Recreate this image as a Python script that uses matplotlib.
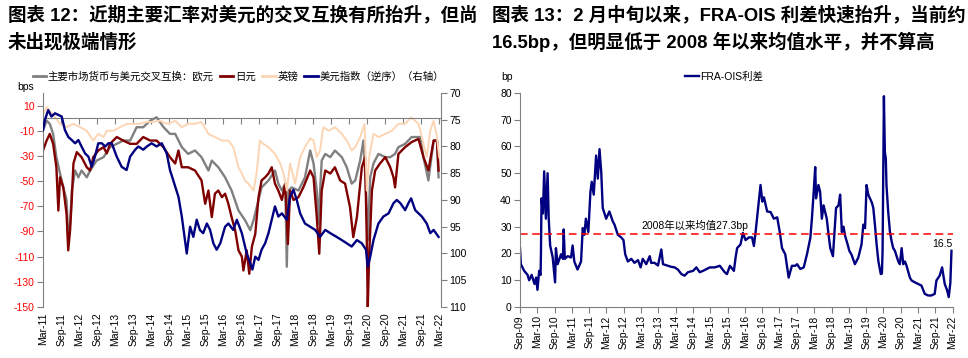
import pandas as pd
import matplotlib
matplotlib.use("Agg")
import matplotlib.pyplot as plt
import matplotlib.dates as mdates
from matplotlib.lines import Line2D

plt.rcParams['font.family'] = ['Liberation Sans', 'Noto Sans CJK SC']
plt.rcParams['axes.unicode_minus'] = False

# ---- left chart: cross-currency basis (bps) and dollar index ----
eur_dates = ['2011-03-01', '2011-04-07', '2011-05-09', '2011-06-12', '2011-07-15', '2011-08-21',
             '2011-09-23', '2011-10-26', '2011-11-12', '2011-12-01', '2011-12-18', '2012-01-21',
             '2012-02-23', '2012-03-26', '2012-05-18', '2012-06-21', '2012-08-26', '2012-11-04',
             '2013-01-09', '2013-03-18', '2013-05-23', '2013-08-01', '2013-10-06', '2013-12-12',
             '2014-02-20', '2014-04-26', '2014-07-04', '2014-09-09', '2014-11-01', '2015-01-07',
             '2015-03-12', '2015-05-21', '2015-07-26', '2015-10-04', '2015-11-07', '2016-01-12',
             '2016-03-21', '2016-05-26', '2016-08-04', '2016-10-09', '2016-12-01', '2017-01-04',
             '2017-02-23', '2017-03-26', '2017-06-04', '2017-08-09', '2017-09-12', '2017-10-18',
             '2017-11-21', '2017-12-07', '2017-12-23', '2018-01-26', '2018-04-04', '2018-06-09',
             '2018-08-01', '2018-09-04', '2018-10-07', '2018-10-23', '2018-11-26', '2019-01-01',
             '2019-02-21', '2019-04-09', '2019-06-18', '2019-08-07', '2019-09-26', '2019-11-01',
             '2019-12-21', '2020-01-23', '2020-02-18', '2020-03-07', '2020-04-01', '2020-05-04',
             '2020-06-23', '2020-09-01', '2020-10-21', '2020-12-09', '2021-01-12', '2021-03-21',
             '2021-05-26', '2021-08-21', '2021-09-23', '2021-11-12', '2022-01-04', '2022-02-07',
             '2022-02-23']
eur_vals = [-10, -2, -4.5, -12.5, -31, -44, -55, -65, -94.5, -84, -57.5, -41.6,
            -47, -41.6, -47, -41.6, -33.7, -31, -23, -20.4, -17.8, -17.8, -7.2, -7.2,
            -2, 0.7, -7, -12.5, -12.5, -23, -28.4, -25.7, -31, -41.6, -33.7, -39,
            -47, -57.5, -73.4, -81, -89, -81, -65, -55, -49.5, -41.6, -52, -57.5,
            -52, -118, -57.5, -55, -57.5, -47, -25.7, -36, -57.5, -84, -33.7, -28.4,
            -31, -25.7, -31, -39, -52, -49.5, -33.7, -17.8, -57.5, -97, -47, -36,
            -28.4, -31, -31, -28.4, -23, -20.4, -15, -15, -31, -49.5, -17.8, -17.8,
            -47]

jpy_dates = ['2011-03-01', '2011-04-07', '2011-05-09', '2011-06-12', '2011-07-15', '2011-08-04',
             '2011-08-21', '2011-09-23', '2011-10-26', '2011-11-12', '2011-12-01', '2011-12-18',
             '2012-01-04', '2012-02-07', '2012-03-26', '2012-05-18', '2012-06-21', '2012-07-23',
             '2012-09-12', '2012-11-04', '2012-12-07', '2013-01-09', '2013-03-18', '2013-05-23',
             '2013-08-01', '2013-10-06', '2013-12-12', '2014-02-20', '2014-04-26', '2014-07-04',
             '2014-09-09', '2014-11-01', '2014-12-04', '2015-01-07', '2015-03-12', '2015-05-21',
             '2015-07-26', '2015-09-01', '2015-10-04', '2015-11-07', '2015-12-09', '2016-01-12',
             '2016-02-18', '2016-03-21', '2016-04-23', '2016-05-26', '2016-07-01', '2016-08-04',
             '2016-09-07', '2016-09-23', '2016-10-26', '2016-11-21', '2016-12-18', '2017-01-21',
             '2017-02-23', '2017-03-26', '2017-05-01', '2017-06-04', '2017-07-07', '2017-08-09',
             '2017-09-12', '2017-10-18', '2017-11-21', '2017-12-18', '2018-01-09', '2018-02-12',
             '2018-04-04', '2018-05-23', '2018-08-01', '2018-09-04', '2018-10-07', '2018-11-01',
             '2018-11-26', '2019-01-01', '2019-02-21', '2019-04-09', '2019-06-01', '2019-07-21',
             '2019-09-09', '2019-10-12', '2019-11-18', '2020-01-07', '2020-02-09', '2020-02-26',
             '2020-03-07', '2020-03-21', '2020-04-18', '2020-05-21', '2020-07-09', '2020-09-01',
             '2020-10-21', '2020-11-23', '2020-12-09', '2021-01-12', '2021-03-21', '2021-05-26',
             '2021-08-04', '2021-09-23', '2021-11-12', '2022-01-04', '2022-02-07', '2022-02-23']
jpy_vals = [-25.7, -17.8, -12.5, -20.4, -39, -73.4, -47, -55, -76, -105, -89, -65,
            -36, -27, -31, -39, -41.6, -31, -25.7, -23, -28, -20.4, -15, -17.8,
            -20.4, -20.4, -15, -17.8, -17.8, -23, -31, -36, -25.7, -39, -39, -41.6,
            -49.5, -68, -57.5, -78.6, -60, -57.5, -62.8, -60, -68, -78.6, -89, -105,
            -110, -121, -105, -123.6, -102, -92, -62.8, -49.5, -47, -44, -39, -52,
            -57.5, -65, -52, -100, -57.5, -65, -62.8, -55, -41.6, -47, -78.6, -107.7,
            -57.5, -41.6, -44, -39, -49.5, -52, -70.7, -94.5, -78.6, -39, -31, -97,
            -150, -110, -57.5, -41.6, -36, -31, -39, -47, -55, -28.4, -23, -19,
            -16.5, -31, -41.6, -17.8, -17.8, -41.6]

gbp_dates = ['2011-03-01', '2011-04-07', '2011-05-09', '2011-07-01', '2011-08-21', '2011-10-26',
             '2012-01-04', '2012-03-09', '2012-05-18', '2012-07-23', '2012-09-12', '2012-11-04',
             '2012-12-07', '2013-02-12', '2013-04-21', '2013-06-26', '2013-09-04', '2013-11-09',
             '2014-01-18', '2014-03-23', '2014-06-01', '2014-08-07', '2014-10-12', '2014-11-01',
             '2015-01-07', '2015-03-12', '2015-05-21', '2015-07-26', '2015-10-04', '2015-12-09',
             '2016-02-18', '2016-04-23', '2016-06-12', '2016-08-04', '2016-09-07', '2016-10-09',
             '2016-11-12', '2017-01-04', '2017-02-07', '2017-03-09', '2017-04-12', '2017-06-04',
             '2017-08-09', '2017-10-01', '2017-11-04', '2017-12-07', '2018-01-09', '2018-03-01',
             '2018-04-21', '2018-06-09', '2018-08-01', '2018-09-04', '2018-10-07', '2018-11-09',
             '2018-12-12', '2019-02-04', '2019-04-09', '2019-06-18', '2019-08-07', '2019-09-26',
             '2019-11-01', '2019-12-21', '2020-02-04', '2020-02-26', '2020-03-21', '2020-05-04',
             '2020-06-23', '2020-09-01', '2020-11-07', '2021-01-12', '2021-03-21', '2021-05-21',
             '2021-08-04', '2021-09-23', '2021-10-26', '2021-12-01', '2022-01-04', '2022-02-07',
             '2022-03-01']
gbp_vals = [3.4, 8.7, 6, 0.7, -4.5, -7.2, -4.5, -7, -10, -17.8, -12.5, -15,
            -10, -10, -7.2, -4.5, -4.5, -4.5, -3, -3, -2, -4.5, -3, -2,
            -7.2, -4.5, -4.5, -3, -12.5, -15, -17.8, -17.8, -23, -39, -44, -49.5,
            -52, -57.5, -41.6, -17.8, -20.4, -23, -28.4, -36, -44, -57.5, -36, -52,
            -31, -23, -16, -17.8, -31, -25.7, -7.2, -10, -7.2, -12.5, -17.8, -25.7,
            -23, -15, -4.5, -57.5, -31, -12.5, -15, -12.5, -10, -4.5, -4.5, 0.7,
            -4.5, -20.4, -31, -10, -2, -15, -31]

dxy_dates = ['2011-03-01', '2011-03-21', '2011-04-23', '2011-05-26', '2011-07-01', '2011-08-04',
             '2011-09-07', '2011-10-09', '2011-11-12', '2011-12-18', '2012-01-21', '2012-02-23',
             '2012-03-26', '2012-05-01', '2012-06-04', '2012-07-07', '2012-08-09', '2012-09-12',
             '2012-10-18', '2012-11-21', '2012-12-23', '2013-01-26', '2013-03-18', '2013-05-07',
             '2013-06-26', '2013-08-01', '2013-09-21', '2013-10-23', '2013-12-12', '2014-01-18',
             '2014-03-07', '2014-04-26', '2014-06-18', '2014-08-07', '2014-09-09', '2014-10-12',
             '2014-11-01', '2014-12-04', '2015-01-07', '2015-02-26', '2015-04-01', '2015-05-04',
             '2015-06-07', '2015-07-09', '2015-08-12', '2015-09-18', '2015-10-21', '2015-11-23',
             '2015-12-26', '2016-02-01', '2016-03-21', '2016-04-23', '2016-06-12', '2016-07-18',
             '2016-09-07', '2016-10-26', '2016-12-01', '2016-12-23', '2017-01-21', '2017-02-23',
             '2017-03-26', '2017-05-01', '2017-06-04', '2017-07-07', '2017-08-09', '2017-09-12',
             '2017-10-18', '2017-12-07', '2018-01-09', '2018-02-12', '2018-03-18', '2018-04-21',
             '2018-06-09', '2018-08-01', '2018-09-21', '2018-11-09', '2019-01-01', '2019-02-21',
             '2019-04-26', '2019-06-18', '2019-08-07', '2019-09-26', '2019-11-18', '2020-01-07',
             '2020-02-18', '2020-03-07', '2020-04-01', '2020-05-04', '2020-06-23', '2020-08-12',
             '2020-10-04', '2020-11-23', '2020-12-26', '2021-02-01', '2021-03-21', '2021-04-23',
             '2021-05-21', '2021-07-01', '2021-09-07', '2021-10-26', '2021-12-01', '2022-01-04',
             '2022-02-23']
dxy_vals = [76.9, 75, 73.2, 74.4, 73.8, 74.1, 74.4, 76.9, 78.2, 78.8, 79.4, 78.8,
            80, 81.3, 81.9, 83.8, 81.9, 79.4, 79.4, 80, 79.4, 79.4, 81.9, 83.8,
            84.4, 81.9, 80.6, 80, 80.6, 80, 79.4, 80, 79.4, 81.3, 84.4, 86.3,
            87.5, 89.4, 93.1, 100, 95, 96.9, 93.7, 95.6, 96.2, 94.4, 95.6, 98.1,
            99.3, 98.1, 95, 94.4, 95.6, 93.7, 96.2, 100, 101.8, 103, 100.6, 101.2,
            99.3, 98.1, 96.2, 93.7, 91.2, 93.1, 92.5, 93.7, 89.4, 88.1, 90, 92.5,
            94.4, 95, 95.6, 96.9, 95.6, 96.2, 96.9, 97.5, 98.1, 98.7, 97.5, 98.1,
            99.3, 102.5, 100.6, 97.5, 94.4, 93.1, 92.5, 90.6, 90, 90.6, 91.9, 90.6,
            89.7, 91.9, 93.1, 94.4, 96.2, 95.6, 96.9]

# ---- right chart: FRA-OIS spread (bp) ----
fra_dates = ['2009-09-01', '2009-09-10', '2009-10-15', '2009-11-20', '2009-12-06', '2010-01-02',
             '2010-02-01', '2010-02-18', '2010-03-04', '2010-03-22', '2010-04-06', '2010-04-10',
             '2010-04-16', '2010-05-01', '2010-05-14', '2010-06-01', '2010-06-19', '2010-07-01',
             '2010-07-16', '2010-08-12', '2010-09-06', '2010-09-15', '2010-10-03', '2010-11-08',
             '2010-11-28', '2010-12-06', '2010-12-18', '2011-01-18', '2011-02-21', '2011-03-10',
             '2011-03-28', '2011-05-01', '2011-06-07', '2011-06-25', '2011-07-12', '2011-07-28',
             '2011-08-23', '2011-09-14', '2011-09-28', '2011-10-19', '2011-11-13', '2011-12-01',
             '2011-12-19', '2012-01-06', '2012-01-22', '2012-02-09', '2012-02-27', '2012-04-01',
             '2012-05-07', '2012-05-25', '2012-06-29', '2012-08-04', '2012-08-28', '2012-09-15',
             '2012-10-13', '2012-11-18', '2012-12-22', '2013-01-28', '2013-02-25', '2013-03-19',
             '2013-04-25', '2013-06-01', '2013-06-16', '2013-07-22', '2013-08-27', '2013-10-01',
             '2013-10-19', '2013-12-10', '2014-01-15', '2014-02-19', '2014-03-25', '2014-05-01',
             '2014-06-04', '2014-07-09', '2014-09-01', '2014-10-06', '2014-11-10', '2014-12-15',
             '2015-02-25', '2015-04-18', '2015-06-10', '2015-08-01', '2015-08-25', '2015-09-25',
             '2015-11-06', '2015-11-24', '2015-12-10', '2016-01-15', '2016-02-09', '2016-03-08',
             '2016-04-12', '2016-05-16', '2016-06-04', '2016-06-21', '2016-07-15', '2016-08-13',
             '2016-09-01', '2016-09-18', '2016-10-22', '2016-11-27', '2017-01-01', '2017-02-05',
             '2017-03-04', '2017-03-28', '2017-05-01', '2017-05-19', '2017-06-06', '2017-07-10',
             '2017-08-15', '2017-09-03', '2017-10-07', '2017-11-12', '2017-12-16', '2018-01-21',
             '2018-02-06', '2018-02-25', '2018-03-13', '2018-03-22', '2018-04-16', '2018-05-04',
             '2018-05-22', '2018-06-09', '2018-06-25', '2018-07-13', '2018-08-01', '2018-08-19',
             '2018-09-16', '2018-10-01', '2018-10-19', '2018-11-14', '2018-12-01', '2018-12-19',
             '2019-01-06', '2019-01-23', '2019-02-18', '2019-03-08', '2019-04-01', '2019-05-06',
             '2019-06-11', '2019-07-15', '2019-08-03', '2019-08-21', '2019-09-06', '2019-09-24',
             '2019-10-12', '2019-11-01', '2019-11-16', '2019-12-03', '2019-12-21', '2020-01-09',
             '2020-02-03', '2020-02-15', '2020-02-22', '2020-03-01', '2020-03-07', '2020-03-17',
             '2020-03-27', '2020-04-03', '2020-04-21', '2020-05-09', '2020-05-27', '2020-06-13',
             '2020-07-01', '2020-08-06', '2020-08-22', '2020-09-10', '2020-09-27', '2020-10-15',
             '2020-11-01', '2020-12-06', '2020-12-24', '2021-01-28', '2021-03-04', '2021-04-07',
             '2021-05-12', '2021-06-16', '2021-07-21', '2021-08-25', '2021-09-12', '2021-10-16',
             '2021-11-11', '2021-12-09', '2022-01-03', '2022-01-20', '2022-02-06', '2022-02-18']
fra_vals = [22, 16, 13.5, 12, 10, 12, 8.6, 11, 6.4, 13.5, 12, 20,
            40.6, 35, 50.7, 33, 50, 33, 23, 18.5, 9.2, 22, 16, 19.7,
            18, 29, 18, 19, 18.5, 23, 17, 14, 17, 29.5, 27, 33,
            28, 43, 46.8, 42, 56.6, 48, 59, 50.5, 37, 35, 33, 35.7,
            32, 30.8, 27, 26, 25, 19.7, 17, 18, 16.5, 17.5, 14.8, 18,
            16, 19, 16.5, 16.5, 15.5, 21.5, 16, 15.4, 15, 14.8, 14, 12.3,
            11.7, 13, 13.5, 14.8, 13, 13.5, 14.8, 14.8, 15.4, 13, 12.3, 15.4,
            13.5, 18.5, 22, 23.4, 27.7, 25, 26, 26, 22.8, 27.7, 35.7, 45.6,
            39.4, 41, 35.7, 35.5, 33, 33.5, 28, 22, 19.7, 15.4, 11, 15.4,
            15.4, 16, 14.2, 14.8, 19.7, 25.9, 33, 43, 52.3, 40.6, 45.6, 43,
            33, 38, 35.7, 33, 27, 22, 19, 27, 37, 38, 42, 28,
            30, 26.5, 23.4, 21, 19.5, 16, 18.5, 23.4, 30.8, 29.5, 45.6, 42,
            40.6, 39, 37, 30.8, 23.4, 17, 12.3, 12.5, 21, 51.7, 78.8, 57.9,
            55.5, 45.6, 35.7, 28.3, 24.6, 22, 21, 17, 16, 22, 16, 17,
            15.4, 11, 9.9, 9.2, 8.6, 8, 4.9, 4.3, 4.3, 4.9, 9.9, 11.7,
            14.8, 8.6, 6.2, 3.7, 9, 21]
fra_mean = 27.3
fra_latest = 16.5

EUR_C, JPY_C, GBP_C, DXY_C = '#808080', '#800000', '#FCD5B4', '#000080'
AX_C = '#808080'

fig = plt.figure(figsize=(9.68, 3.58), dpi=100)

fig.text(0.008, 0.958, '图表 12：近期主要汇率对美元的交叉互换有所抬升，但尚',
         fontsize=13.3, fontweight='bold', va='center')
fig.text(0.008, 0.882, '未出现极端情形', fontsize=13.3, fontweight='bold', va='center')
fig.text(0.508, 0.958, '图表 13：2 月中旬以来，FRA-OIS 利差快速抬升，当前约',
         fontsize=13.3, fontweight='bold', va='center')
fig.text(0.508, 0.882, '16.5bp，但明显低于 2008 年以来均值水平，并不算高',
         fontsize=13.3, fontweight='bold', va='center')

# ---------------- left chart ----------------
ax = fig.add_axes([0.0444, 0.1425, 0.4112, 0.5978])
ax.plot(mdates.date2num(pd.to_datetime(eur_dates)), eur_vals, color=EUR_C, lw=1.7)
ax.plot(mdates.date2num(pd.to_datetime(jpy_dates)), jpy_vals, color=JPY_C, lw=1.7)
ax.plot(mdates.date2num(pd.to_datetime(gbp_dates)), gbp_vals, color=GBP_C, lw=1.4)
ax.set_ylim(-150, 20)
ax.set_yticks(range(-150, 11, 20))
ax.set_xlim(mdates.date2num(pd.Timestamp('2011-03-01')), mdates.date2num(pd.Timestamp('2022-03-20')))
ax.xaxis.set_major_locator(mdates.MonthLocator(bymonth=(3, 9)))
ax.xaxis.set_major_formatter(mdates.DateFormatter('%b-%y'))
ax.spines['top'].set_visible(False)
ax.spines['right'].set_visible(False)
ax.spines['left'].set_color(AX_C)
# category axis crosses the value axis at 0
ax.spines['bottom'].set_position(('data', 0))
ax.spines['bottom'].set_color(AX_C)
ax.tick_params(axis='x', direction='out', length=4, color=AX_C, labelbottom=False)
ax.tick_params(axis='y', direction='out', length=4, color=AX_C, labelcolor='red', labelsize=7.5, pad=2)

# date labels sit at the bottom of the plot
sec = ax.secondary_xaxis('bottom')
sec.xaxis.set_major_locator(mdates.MonthLocator(bymonth=(3, 9)))
sec.xaxis.set_major_formatter(mdates.DateFormatter('%b-%y'))
sec.spines['bottom'].set_visible(False)
sec.tick_params(length=0, labelsize=7.5, rotation=90, pad=4)

ax2 = ax.twinx()
ax2.plot(mdates.date2num(pd.to_datetime(dxy_dates)), dxy_vals, color=DXY_C, lw=1.7)
ax2.set_ylim(110, 70)
ax2.set_yticks(range(70, 111, 5))
for s in ['top', 'bottom', 'left']:
    ax2.spines[s].set_visible(False)
ax2.spines['right'].set_color(AX_C)
ax2.tick_params(axis='y', direction='out', length=4, color=AX_C, labelsize=7.5, pad=2)

handles = [Line2D([], [], color=EUR_C, lw=2), Line2D([], [], color=JPY_C, lw=2),
           Line2D([], [], color=GBP_C, lw=2), Line2D([], [], color=DXY_C, lw=2)]
labels = ['主要市场货币与美元交叉互换：欧元', '日元', '英镑', '美元指数（逆序）（右轴）']
fig.legend(handles, labels, loc='center', bbox_to_anchor=(0.246, 0.785), ncol=4,
           frameon=False, fontsize=7.5, handlelength=1.3, handletextpad=0.15,
           columnspacing=0.6, borderpad=0)
fig.text(0.026, 0.757, 'bps', fontsize=7.5, ha='center', va='center')

# ---------------- right chart ----------------
bx = fig.add_axes([0.5372, 0.1425, 0.4473, 0.5978])
fra_x = mdates.date2num(pd.to_datetime(fra_dates))
bx.plot(fra_x, fra_vals, color=DXY_C, lw=1.7, label='FRA-OIS利差')
bx.axhline(fra_mean, color='red', lw=1.1, ls=(0, (5, 3)))
bx.text(mdates.date2num(pd.Timestamp('2013-03-01')), fra_mean + 1.2, '2008年以来均值%.1fbp' % fra_mean,
        fontsize=7.5, va='bottom', ha='left')
bx.text(fra_x[-1] + 5, fra_vals[-1] + 0.8, '%.1f' % fra_latest, fontsize=7.5, va='bottom', ha='right')
bx.set_ylim(0, 80)
bx.set_yticks(range(0, 81, 10))
bx.set_xlim(mdates.date2num(pd.Timestamp('2009-09-01')), mdates.date2num(pd.Timestamp('2022-03-06')))
bx.xaxis.set_major_locator(mdates.MonthLocator(bymonth=(3, 9)))
bx.xaxis.set_major_formatter(mdates.DateFormatter('%b-%y'))
bx.spines['top'].set_visible(False)
bx.spines['right'].set_visible(False)
bx.spines['left'].set_color(AX_C)
bx.spines['bottom'].set_color(AX_C)
bx.tick_params(axis='x', direction='out', length=4, color=AX_C, labelsize=7.5, rotation=90, pad=2)
bx.tick_params(axis='y', direction='out', length=4, color=AX_C, labelsize=7.5, pad=2)
fig.legend(loc='center', bbox_to_anchor=(0.748, 0.785), frameon=False, fontsize=7.5,
           handlelength=1.3, handletextpad=0.1, borderpad=0)
fig.text(0.524, 0.785, 'bp', fontsize=7.5, ha='center', va='center')

fig.savefig('out.png', dpi=100)
